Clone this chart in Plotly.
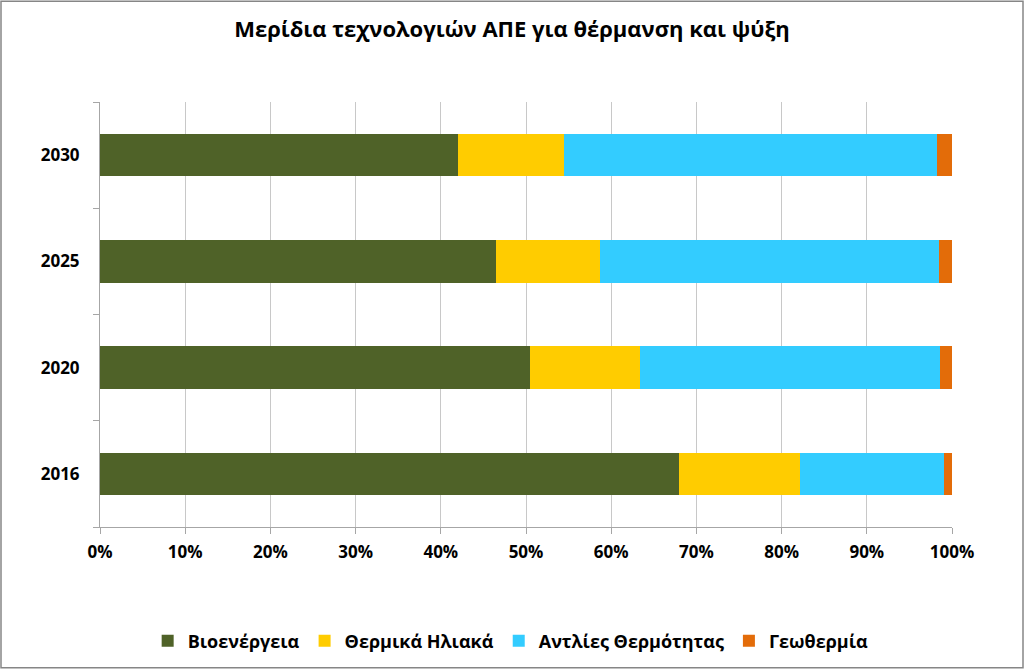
import plotly.graph_objects as go

# Quote per anno (percentuali)
years = ["2016", "2020", "2025", "2030"]
bioenergy = [67.9, 50.5, 46.5, 42.0]
solar_thermal = [14.3, 12.9, 12.2, 12.5]
heat_pumps = [16.9, 35.2, 39.8, 43.7]
geothermal = [0.9, 1.4, 1.5, 1.8]

series = [
    ("Βιοενέργεια", bioenergy, "#4F6228"),
    ("Θερμικά Ηλιακά", solar_thermal, "#FFCC00"),
    ("Αντλίες Θερμότητας", heat_pumps, "#33CCFF"),
    ("Γεωθερμία", geothermal, "#E36C09"),
]

W, H = 1024, 670
L, R, T, B = 100, 72, 102, 142
font = "Open Sans"
bold = lambda size: dict(size=size, family=font, weight="bold", color="black")

fig = go.Figure()
for name, vals, color in series:
    fig.add_trace(go.Bar(
        y=years, x=vals, orientation="h", name=name,
        marker=dict(color=color, line=dict(width=0)),
    ))

pw, ph = W - L - R, H - T - B
fig.update_layout(
    width=W, height=H,
    margin=dict(l=L, r=R, t=T, b=B),
    barmode="stack", barnorm="percent", bargap=0.6,
    plot_bgcolor="white", paper_bgcolor="white",
    font=dict(family=font, color="black"),
    title=dict(
        text="Μερίδια τεχνολογιών ΑΠΕ για θέρμανση και ψύξη",
        x=0.5, xanchor="center", y=1 - 29 / H, yanchor="middle",
        font=bold(22),
    ),
    legend=dict(
        orientation="h", x=0.482, xanchor="center", y=-113 / ph, yanchor="middle",
        font=bold(18), itemwidth=30, traceorder="normal",
    ),
    showlegend=True,
)
fig.update_xaxes(
    range=[0, 100], dtick=10, ticksuffix="%",
    showgrid=True, gridcolor="#C8C8C8", gridwidth=1,
    showline=True, linecolor="#A6A6A6", linewidth=1,
    ticks="outside", ticklen=6, tickcolor="#A6A6A6",
    tickfont=bold(17), zeroline=False, ticklabelstandoff=4,
)
fig.update_yaxes(
    type="category", categoryorder="array", categoryarray=years,
    showgrid=False, showline=True, linecolor="#A6A6A6", linewidth=1,
    ticks="outside", ticklen=6, tickcolor="#A6A6A6", tickson="boundaries",
    tickfont=bold(17), ticklabelstandoff=16,
)

# cornice esterna del grafico
fig.add_shape(
    type="rect", xref="paper", yref="paper",
    x0=-(L - 1) / pw, x1=1 + (R - 1) / pw,
    y0=-(B - 1) / ph, y1=1 + (T - 1) / ph,
    line=dict(color="#868686", width=1.5), layer="below",
)

fig.write_html(
    "out.html",
    config={"displayModeBar": False},
    post_script="document.body.style.margin='0';",
)
